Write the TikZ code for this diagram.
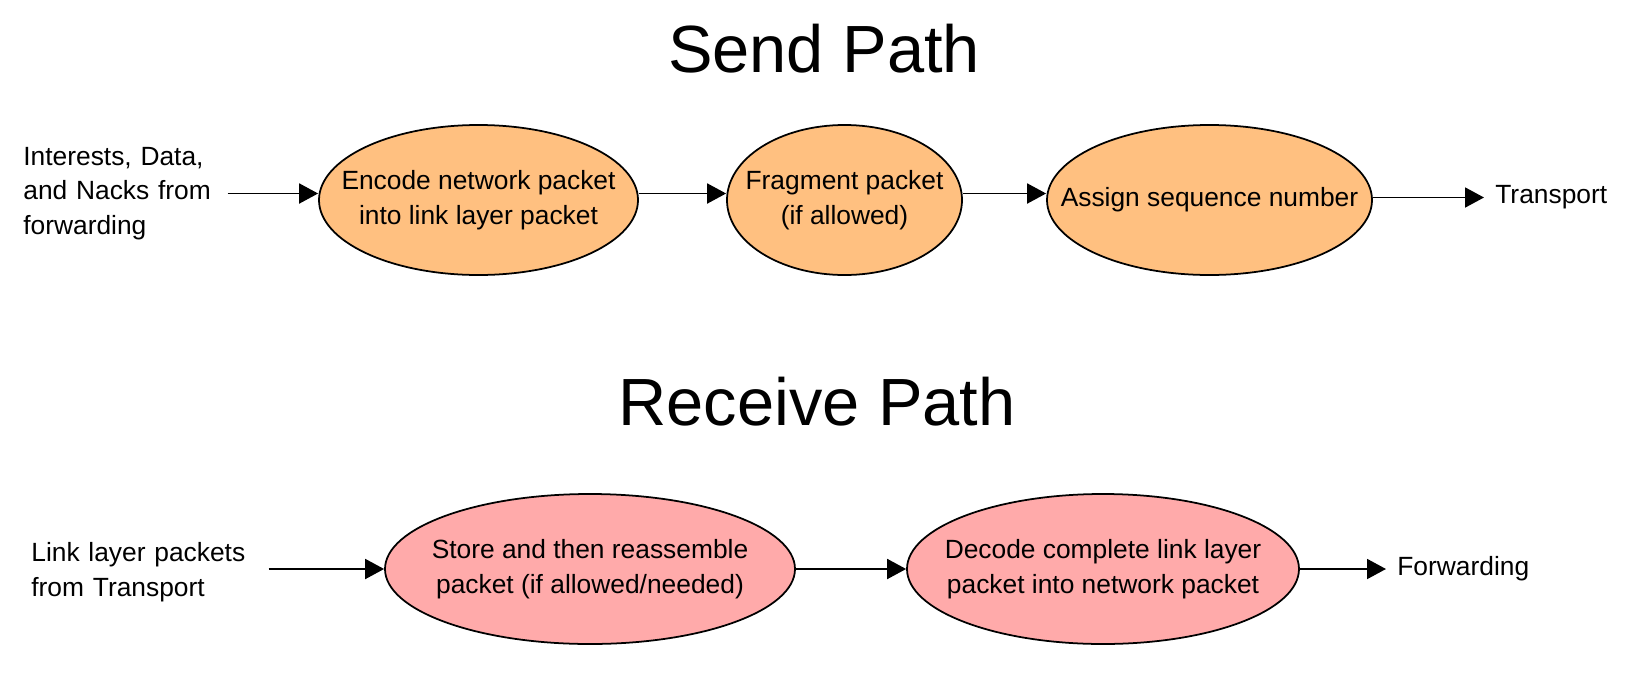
\documentclass[tikz,border=0pt]{standalone}
\usepackage{fontspec}
\setmainfont{Liberation Sans}
\usetikzlibrary{arrows.meta,shapes.geometric}
\definecolor{SendOrange}{RGB}{255,192,128}
\definecolor{RecvPink}{RGB}{255,170,170}
\newcommand{\flowfont}{\fontsize{15}{19.8}\selectfont}
\newcommand{\ttlfont}{\fontsize{38}{46}\selectfont}

\begin{document}
\begin{tikzpicture}[
  op/.style={ellipse,draw=black,line width=1pt,minimum height=3.0cm,inner xsep=-0.8cm,font=\flowfont,align=center},
  src/.style={anchor=west,inner xsep=0.1cm,font=\flowfont,align=left},
  dst/.style={anchor=west,inner xsep=0.22cm,font=\flowfont},
  ttl/.style={anchor=base,font=\ttlfont},
  arr/.style={-{Triangle[length=0.38cm,width=0.40cm]},line width=1.1pt}
]
  \useasboundingbox (0,0) rectangle (32.52,-13.62);
  % send path
  \node[ttl] (sendttl) at (16.48,-1.45) {Send Path};
  \node[src,text width=3.98cm] (fwdin) at (0.36,-3.87) {Interests, Data,\\and Nacks from\\forwarding};
  \node[op,fill=SendOrange,minimum width=6.38cm] (enc) at (9.57,-4.00) {Encode network packet\\into link layer packet};
  \node[op,fill=SendOrange,minimum width=4.70cm] (frag) at (16.89,-4.00) {Fragment packet\\(if allowed)};
  \node[op,fill=SendOrange,minimum width=6.50cm] (seq) at (24.19,-4.00) {Assign sequence number};
  \node[dst] (trans) at (29.68,-3.95) {Transport};
  \draw[arr] (fwdin)--(fwdin -| enc.west);
  \draw[arr] (fwdin -| enc.east)--(fwdin -| frag.west);
  \draw[arr] (fwdin -| frag.east)--(fwdin -| seq.west);
  \draw[arr] (trans -| seq.east)--(trans);
  % receive path
  \node[ttl] (recvttl) at (16.34,-8.50) {Receive Path};
  \node[src,text width=4.64cm] (linkin) at (0.52,-11.44) {Link layer packets\\from Transport};
  \node[op,fill=RecvPink,minimum width=8.20cm] (reas) at (11.80,-11.38) {Store and then reassemble\\packet (if allowed/needed)};
  \node[op,fill=RecvPink,minimum width=7.84cm] (dec) at (22.06,-11.38) {Decode complete link layer\\packet into network packet};
  \node[dst] (fwdout) at (27.72,-11.38) {Forwarding};
  \draw[arr] (linkin.east |- reas)--(reas);
  \draw[arr] (reas)--(dec);
  \draw[arr] (dec)--(fwdout);
\end{tikzpicture}
\end{document}
